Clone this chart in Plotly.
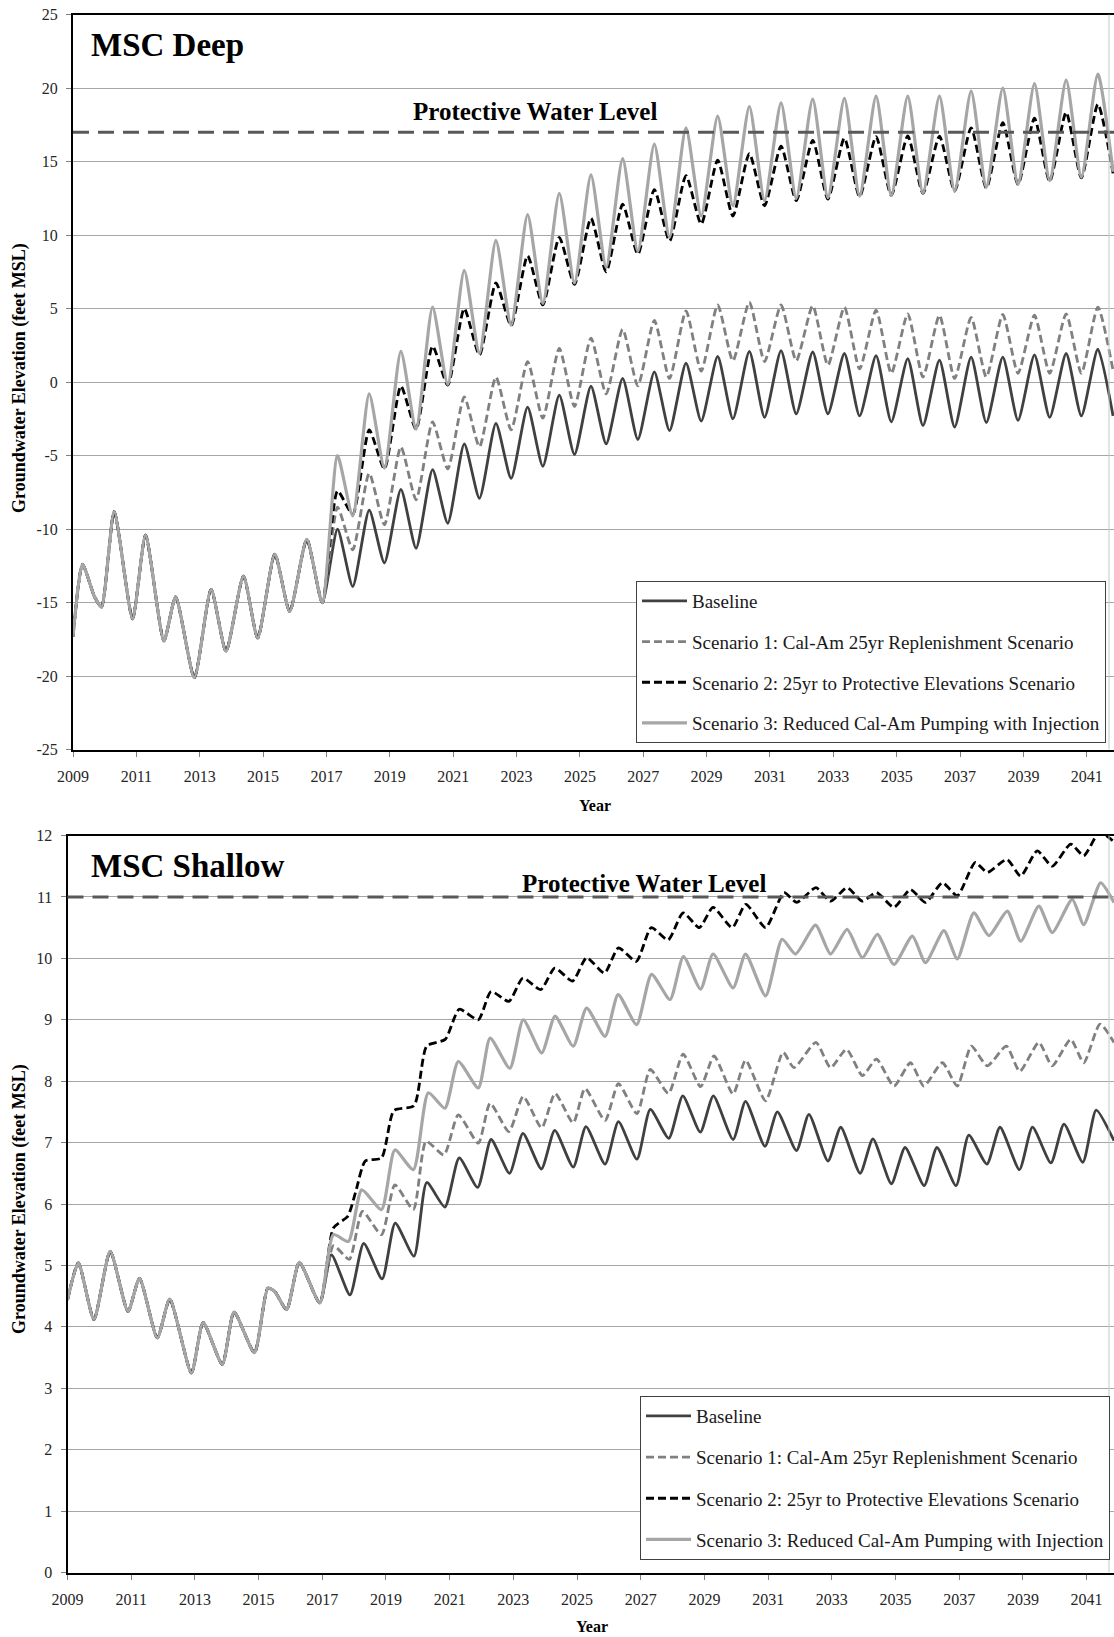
import plotly.graph_objects as go

# ---------------- DATA ----------------
series_names = [
    "Baseline",
    "Scenario 1: Cal-Am 25yr Replenishment Scenario",
    "Scenario 2: 25yr to Protective Elevations Scenario",
    "Scenario 3: Reduced Cal-Am Pumping with Injection",
]
x_tick_years = [2009, 2011, 2013, 2015, 2017, 2019, 2021, 2023, 2025, 2027,
                2029, 2031, 2033, 2035, 2037, 2039, 2041]
deep_y_ticks = [-25, -20, -15, -10, -5, 0, 5, 10, 15, 20, 25]
shallow_y_ticks = [0, 1, 2, 3, 4, 5, 6, 7, 8, 9, 10, 11, 12]

# ---- MSC Deep ----
deep_protective = 17
deep_hist_t = [2009.00, 2009.30, 2009.68, 2009.90, 2010.30, 2010.88, 2011.29, 2011.87, 2012.24,
               2012.83, 2013.36, 2013.83, 2014.38, 2014.83, 2015.37, 2015.84, 2016.38, 2016.87]
deep_hist_v = [-17.3, -12.4, -14.6, -15.3, -8.8, -16.1, -10.4, -17.6, -14.6,
               -20.1, -14.1, -18.3, -13.2, -17.4, -11.7, -15.6, -10.7, -15.0]
deep_proj_t = [2017.35, 2017.83, 2018.35, 2018.83, 2019.35, 2019.83, 2020.35, 2020.83,
               2021.35, 2021.83, 2022.35, 2022.83, 2023.35, 2023.83, 2024.35, 2024.83,
               2025.35, 2025.83, 2026.35, 2026.83, 2027.35, 2027.83, 2028.35, 2028.83,
               2029.35, 2029.83, 2030.35, 2030.83, 2031.35, 2031.83, 2032.35, 2032.83,
               2033.35, 2033.83, 2034.35, 2034.83, 2035.35, 2035.83, 2036.35, 2036.83,
               2037.35, 2037.83, 2038.35, 2038.83, 2039.35, 2039.83, 2040.35, 2040.83,
               2041.35, 2041.83]
deep_baseline = [-10.0, -13.9, -8.7, -12.3, -7.3, -11.3, -5.95, -9.6, -4.2, -7.9, -2.8, -6.55,
                 -1.7, -5.72, -0.88, -4.92, -0.27, -4.2, 0.25, -3.9, 0.7, -3.3, 1.3, -2.65,
                 1.75, -2.5, 2.1, -2.4, 2.15, -2.16, 2.05, -2.16, 1.95, -2.3, 1.8, -2.7,
                 1.6, -2.95, 1.5, -3.05, 1.7, -2.75, 1.7, -2.6, 1.85, -2.4, 1.95, -2.3, 2.25, -2.3]
deep_s1 = [-8.5, -11.4, -6.2, -9.7, -4.4, -8.0, -2.7, -5.9, -1.0, -4.4, 0.35, -3.25,
           1.4, -2.45, 2.3, -1.65, 3.0, -0.8, 3.6, -0.25, 4.2, 0.25, 4.85, 0.75,
           5.25, 1.45, 5.45, 1.4, 5.25, 1.45, 5.2, 1.15, 5.1, 0.9, 4.9, 0.6,
           4.65, 0.35, 4.55, 0.25, 4.4, 0.35, 4.6, 0.6, 4.55, 0.6, 4.65, 0.6, 5.1, 0.8]
deep_s2 = [-7.4, -9.0, -3.25, -5.9, -0.27, -3.2, 2.45, -0.2, 5.0, 1.85, 6.75, 3.85,
           8.6, 5.25, 9.85, 6.65, 11.15, 7.5, 12.1, 8.7, 13.1, 9.6, 14.05, 10.75,
           15.1, 11.3, 15.55, 12.0, 16.05, 12.35, 16.45, 12.45, 16.6, 12.62, 16.7, 12.7,
           16.75, 12.84, 16.73, 13.0, 17.3, 13.2, 17.65, 13.45, 17.95, 13.65, 18.35, 13.9, 18.9, 14.2]
deep_s3 = [-5.0, -9.1, -0.8, -5.85, 2.1, -3.2, 5.1, -0.15, 7.6, 1.95, 9.65, 3.87,
           11.4, 5.35, 12.85, 6.75, 14.1, 7.8, 15.2, 8.9, 16.2, 9.85, 17.3, 11.3,
           18.1, 12.0, 18.75, 12.35, 19.0, 12.5, 19.25, 12.55, 19.3, 12.65, 19.45, 12.7,
           19.45, 12.85, 19.45, 13.0, 19.8, 13.25, 20.0, 13.45, 20.3, 13.7, 20.55, 13.95, 20.95, 14.3]

# ---- MSC Shallow ----
shallow_protective = 11
sh_hist_t = [2009.00, 2009.34, 2009.83, 2010.34, 2010.90, 2011.26, 2011.82, 2012.21, 2012.89,
             2013.26, 2013.86, 2014.23, 2014.87, 2015.29, 2015.50, 2015.88, 2016.28, 2016.92]
sh_hist_v = [4.44, 5.04, 4.12, 5.23, 4.25, 4.79, 3.82, 4.45, 3.25,
             4.07, 3.39, 4.24, 3.58, 4.63, 4.58, 4.28, 5.05, 4.39]
sh_base_t = [2017.29, 2017.87, 2018.30, 2018.88, 2019.29, 2019.88, 2020.28, 2020.85,
             2021.30, 2021.88, 2022.30, 2022.88, 2023.30, 2023.88, 2024.30, 2024.88,
             2025.28, 2025.88, 2026.30, 2026.88, 2027.30, 2027.88, 2028.32, 2028.87,
             2029.28, 2029.90, 2030.29, 2030.90, 2031.29, 2031.89, 2032.28, 2032.88,
             2033.28, 2033.89, 2034.29, 2034.87, 2035.30, 2035.90, 2036.30, 2036.90,
             2037.30, 2037.87, 2038.28, 2038.89, 2039.30, 2039.88, 2040.29, 2040.88,
             2041.30, 2041.86]
sh_base_v = [5.17, 4.52, 5.36, 4.78, 5.69, 5.15, 6.35, 5.95, 6.75, 6.27, 7.05, 6.5,
             7.15, 6.57, 7.2, 6.6, 7.26, 6.65, 7.34, 6.73, 7.54, 7.07, 7.76, 7.17,
             7.76, 7.05, 7.67, 6.94, 7.5, 6.87, 7.46, 6.7, 7.25, 6.5, 7.06, 6.33,
             6.92, 6.3, 6.92, 6.3, 7.12, 6.65, 7.25, 6.56, 7.25, 6.67, 7.3, 6.68, 7.53, 7.03]
sh_s1_t = [2017.35, 2017.85, 2018.26, 2018.86, 2019.28, 2019.86, 2020.26, 2020.82,
           2021.27, 2021.90, 2022.27, 2022.86, 2023.31, 2023.89, 2024.31, 2024.88,
           2025.25, 2025.88, 2026.30, 2026.88, 2027.30, 2027.87, 2028.33, 2028.88,
           2029.30, 2029.90, 2030.29, 2030.92, 2031.47, 2031.81, 2032.50, 2032.96,
           2033.46, 2033.96, 2034.40, 2034.95, 2035.47, 2035.89, 2036.47, 2036.94,
           2037.38, 2037.88, 2038.48, 2038.90, 2039.50, 2039.92, 2040.50, 2040.91,
           2041.42, 2041.86]
sh_s1_v = [5.32, 5.1, 5.88, 5.5, 6.31, 5.91, 7.02, 6.8, 7.45, 6.99, 7.64, 7.18,
           7.75, 7.24, 7.8, 7.32, 7.88, 7.36, 7.96, 7.47, 8.19, 7.8, 8.44, 7.91,
           8.41, 7.79, 8.34, 7.68, 8.47, 8.22, 8.63, 8.22, 8.52, 8.09, 8.36, 7.92,
           8.3, 7.92, 8.3, 7.92, 8.57, 8.25, 8.57, 8.16, 8.63, 8.25, 8.68, 8.3, 8.93, 8.63]
sh_s2_t = [2017.35, 2017.80, 2018.05, 2018.35, 2018.86, 2019.25, 2019.88, 2020.28, 2020.86,
           2021.30, 2021.90, 2022.30, 2022.86, 2023.30, 2023.86, 2024.30, 2024.86,
           2025.30, 2025.86, 2026.30, 2026.86, 2027.33, 2027.86, 2028.33, 2028.84,
           2029.27, 2029.87, 2030.30, 2030.92, 2031.50, 2031.90, 2032.50, 2032.96,
           2033.48, 2033.96, 2034.40, 2034.95, 2035.47, 2035.94, 2036.47, 2036.94,
           2037.50, 2037.88, 2038.50, 2038.93, 2039.45, 2039.92, 2040.50, 2040.91,
           2041.40, 2041.86]
sh_s2_v = [5.61, 5.8, 6.2, 6.7, 6.75, 7.52, 7.6, 8.57, 8.68,
           9.17, 9.0, 9.46, 9.3, 9.68, 9.49, 9.84, 9.63,
           10.01, 9.76, 10.17, 9.95, 10.5, 10.3, 10.74, 10.5,
           10.83, 10.5, 10.88, 10.5, 11.07, 10.91, 11.15, 10.93,
           11.15, 10.93, 11.07, 10.83, 11.12, 10.91, 11.23, 11.02,
           11.56, 11.4, 11.61, 11.34, 11.75, 11.5, 11.86, 11.67,
           12.05, 11.9]
sh_s3_t = [2017.35, 2017.82, 2018.24, 2018.86, 2019.28, 2019.86, 2020.33, 2020.85,
           2021.27, 2021.90, 2022.27, 2022.89, 2023.31, 2023.89, 2024.31, 2024.88,
           2025.30, 2025.88, 2026.29, 2026.87, 2027.34, 2027.92, 2028.34, 2028.88,
           2029.27, 2029.90, 2030.29, 2030.92, 2031.44, 2031.86, 2032.49, 2032.96,
           2033.48, 2033.96, 2034.43, 2034.95, 2035.53, 2035.94, 2036.52, 2036.94,
           2037.46, 2037.93, 2038.51, 2038.93, 2039.50, 2039.92, 2040.55, 2040.91,
           2041.44, 2041.86]
sh_s3_v = [5.5, 5.39, 6.23, 5.91, 6.88, 6.56, 7.81, 7.56, 8.32, 7.89, 8.7, 8.21,
           9.0, 8.46, 9.06, 8.57, 9.19, 8.73, 9.41, 8.92, 9.74, 9.33, 10.03, 9.5,
           10.07, 9.52, 10.07, 9.39, 10.31, 10.07, 10.54, 10.07, 10.47, 10.01, 10.39, 9.9,
           10.36, 9.93, 10.45, 9.99, 10.74, 10.37, 10.77, 10.28, 10.85, 10.42, 10.96, 10.55,
           11.23, 10.91]

# ---------------- STYLE / LAYOUT ----------------
W, H = 1114, 1637
SERIF = "Liberation Serif"


def fx(p):
    return p / W


def fy(p):
    return 1 - p / H


line_styles = [
    dict(color="#404040", width=2.8, dash="solid"),
    dict(color="#808080", width=2.8, dash="8px,4px"),
    dict(color="#000000", width=2.8, dash="8px,4px"),
    dict(color="#a6a6a6", width=3.2, dash="solid"),
]

fig = go.Figure()

deep_sets = [(deep_proj_t, deep_baseline), (deep_proj_t, deep_s1),
             (deep_proj_t, deep_s2), (deep_proj_t, deep_s3)]
for i, ((t, v), name, st) in enumerate(zip(deep_sets, series_names, line_styles)):
    fig.add_trace(go.Scatter(
        x=deep_hist_t + t, y=deep_hist_v + v, mode="lines", name=name,
        line=dict(color=st["color"], width=st["width"], dash=st["dash"],
                  shape="spline", smoothing=0.6),
        xaxis="x", yaxis="y", legend="legend", legendgroup=f"deep{i}",
        hoverinfo="skip"))

shallow_sets = [(sh_base_t, sh_base_v), (sh_s1_t, sh_s1_v),
                (sh_s2_t, sh_s2_v), (sh_s3_t, sh_s3_v)]
for i, ((t, v), name, st) in enumerate(zip(shallow_sets, series_names, line_styles)):
    fig.add_trace(go.Scatter(
        x=sh_hist_t + t, y=sh_hist_v + v, mode="lines", name=name,
        line=dict(color=st["color"], width=st["width"], dash=st["dash"],
                  shape="spline", smoothing=0.6),
        xaxis="x2", yaxis="y2", legend="legend2", legendgroup=f"sh{i}",
        hoverinfo="skip"))

# protective water level lines + light right border
for yref, xref, level in [("y", "x", deep_protective), ("y2", "x2", shallow_protective)]:
    fig.add_shape(type="line", xref=f"{xref} domain", x0=0, x1=1, yref=yref,
                  y0=level, y1=level, line=dict(color="#595959", width=3, dash="16px,9px"))
    fig.add_shape(type="line", xref="paper", x0=fx(1109), x1=fx(1109),
                  yref=f"{yref} domain", y0=0, y1=1,
                  line=dict(color="#c8c8c8", width=1))

tickfont = dict(family=SERIF, size=16, color="#262626")
xcommon = dict(tickmode="array", tickvals=x_tick_years, ticktext=[str(y) for y in x_tick_years],
               ticks="outside", ticklen=5, tickcolor="#808080", tickwidth=1, showline=True,
               linecolor="black", linewidth=2, mirror=True, showgrid=False,
               zeroline=False, tickfont=tickfont, ticklabelstandoff=6, automargin=False)
ycommon = dict(tickmode="array", ticks="outside", ticklen=5, tickcolor="#808080", tickwidth=1,
               showline=True, linecolor="black", linewidth=2, showgrid=True,
               gridcolor="#a6a6a6", gridwidth=1, zeroline=False, tickfont=tickfont,
               ticklabelstandoff=5, automargin=False)

fig.update_layout(
    template="none",
    width=W, height=H, margin=dict(l=0, r=0, t=0, b=0, pad=0),
    paper_bgcolor="white", plot_bgcolor="white", showlegend=True,
    font=dict(family=SERIF, color="#262626"),
    xaxis=dict(domain=[fx(73), 1.0], range=[2009, 2041.86], anchor="y", **xcommon),
    yaxis=dict(domain=[fy(749.7), fy(14.6)], range=[-25, 25], anchor="x",
               tickvals=deep_y_ticks, ticktext=[str(v) for v in deep_y_ticks], **ycommon),
    xaxis2=dict(domain=[fx(67.5), 1.0], range=[2009, 2041.86], anchor="y2", **xcommon),
    yaxis2=dict(domain=[fy(1572.5), fy(835.5)], range=[0, 12], anchor="x2",
                tickvals=shallow_y_ticks, ticktext=[str(v) for v in shallow_y_ticks], **ycommon),
    legend=dict(x=fx(636), y=fy(581), xanchor="left", yanchor="top",
                bgcolor="white", bordercolor="#404040", borderwidth=1,
                font=dict(family=SERIF, size=19, color="#1a1a1a"),
                tracegroupgap=13, itemwidth=45),
    legend2=dict(x=fx(640), y=fy(1396), xanchor="left", yanchor="top",
                 bgcolor="white", bordercolor="#404040", borderwidth=1,
                 font=dict(family=SERIF, size=19, color="#1a1a1a"),
                 tracegroupgap=13.5, itemwidth=45),
)

ann = []
bold = lambda s: dict(family=SERIF, size=s, color="black", weight="bold")
ann.append(dict(text="MSC Deep", x=fx(89), y=fy(45), xanchor="left", yanchor="middle",
                font=bold(33)))
ann.append(dict(text="MSC Shallow", x=fx(89), y=fy(866), xanchor="left", yanchor="middle",
                font=bold(33)))
ann.append(dict(text="Protective Water Level", x=fx(535), y=fy(112), xanchor="center",
                yanchor="middle", font=bold(25)))
ann.append(dict(text="Protective Water Level", x=fx(644), y=fy(883), xanchor="center",
                yanchor="middle", font=bold(25)))
for yc in (378, 1199):
    ann.append(dict(text="Groundwater Elevation (feet MSL)", x=fx(19), y=fy(yc),
                    xanchor="center", yanchor="middle", textangle=-90, font=bold(18)))
ann.append(dict(text="Year", x=fx(595), y=fy(805), xanchor="center", yanchor="middle",
                font=bold(16)))
ann.append(dict(text="Year", x=fx(592), y=fy(1626), xanchor="center", yanchor="middle",
                font=bold(16)))
for a in ann:
    a.update(xref="paper", yref="paper", showarrow=False)
fig.update_layout(annotations=ann)

fig.write_html("out.html")
